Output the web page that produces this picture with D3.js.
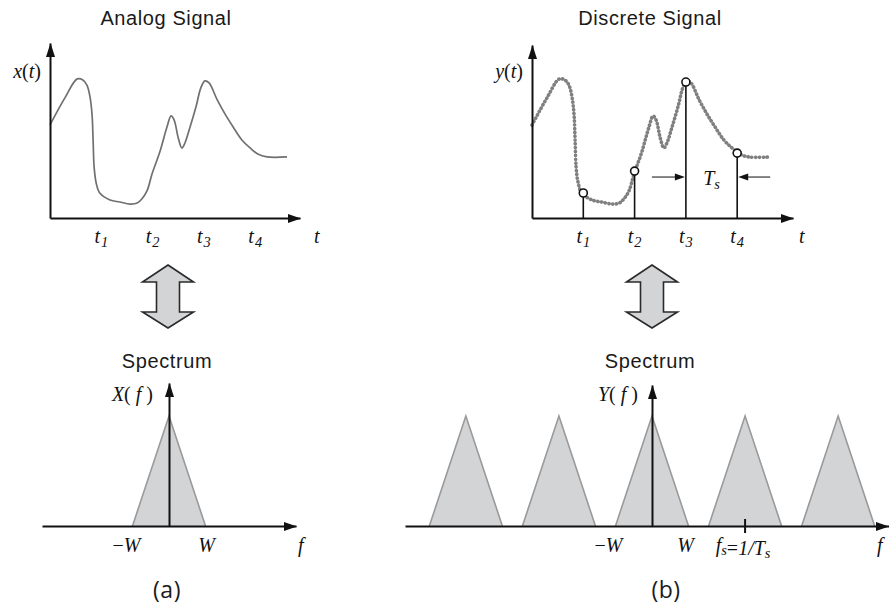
<!DOCTYPE html>
<html><head><meta charset="utf-8">
<script src="https://cdn.jsdelivr.net/npm/d3@7"></script>
<style>body{margin:0;background:#fff}svg{display:block}</style>
</head><body><svg id="c" width="889" height="604"></svg>
<script>
// ---------------- data ----------------
const signalT = [0,0.29,0.53,0.64,0.72,0.78,0.82,0.84,0.86,0.90,0.97,1.17,1.36,1.56,1.70,1.79,1.89,1.99,2.14,2.28,2.36,2.42,2.50,2.57,2.63,2.73,2.85,2.94,3.02,3.10,3.26,3.41,3.57,3.74,3.90,4.05,4.23,4.62];
const signalV = [0.547,0.706,0.818,0.812,0.782,0.712,0.606,0.459,0.300,0.206,0.147,0.106,0.094,0.082,0.088,0.112,0.159,0.260,0.388,0.535,0.600,0.576,0.471,0.412,0.441,0.535,0.659,0.765,0.806,0.794,0.694,0.612,0.535,0.459,0.412,0.376,0.359,0.359];
const sampleT = [1,2,3,4];
const sampleV = [0.147,0.276,0.800,0.382];
const sampleSubs = ["1","2","3","4"];
const panelTitles = ["Analog Signal","Discrete Signal"];
const spectrumTitle = "Spectrum";
const captions = ["(a)","(b)"];
const bandW = 1;          // half-width of baseband spectrum
const fsRatio = 2.55;     // sampling frequency in units of W
const replicaK = [-2,-1,0,1,2];
const specHeight = 1;

// ---------------- helpers ----------------
const svg = d3.select("#c");
const serif = "'Liberation Serif','Times New Roman',serif";
const sans = "'Liberation Sans',Arial,sans-serif";
const capFont = "'Open Sans','Noto Sans',sans-serif";

function head(g, x, y, dir, L, H) {
  let pts;
  if (dir === "right") pts = [[x,y],[x-L,y-H/2],[x-L,y+H/2]];
  else if (dir === "left") pts = [[x,y],[x+L,y-H/2],[x+L,y+H/2]];
  else pts = [[x,y],[x-H/2,y+L],[x+H/2,y+L]];
  g.append("path").attr("d","M"+pts.map(p=>p.join(",")).join("L")+"Z").attr("fill","#111");
}
function styleAxis(sel){
  sel.select(".domain").attr("stroke","#111").attr("stroke-width",2);
}
function axesPair(xs, ys) {
  const g = svg.append("g");
  g.append("g").attr("transform",`translate(0,${ys(0)})`)
    .call(d3.axisBottom(xs).tickValues([]).tickSizeOuter(0)).call(styleAxis);
  g.append("g").attr("transform",`translate(${xs(0)},0)`)
    .call(d3.axisLeft(ys).tickValues([]).tickSizeOuter(0)).call(styleAxis);
  head(g, xs.range()[1]+1, ys(0)+0.5, "right", 13, 9);
  head(g, xs(0)+0.5, ys.range()[1], "up", 14, 9);
}
function mathText(x, y, parts, anchor, size) {
  const t = svg.append("text").attr("x",x).attr("y",y)
    .attr("text-anchor",anchor||"start").attr("font-family",serif)
    .attr("font-size",size||20).attr("fill","#111");
  parts.forEach(p=>{
    const s = t.append("tspan").text(p.t);
    if (p.i) s.attr("font-style","italic");
    if (p.sub) s.attr("font-size",(size||20)*0.72).attr("dy",p.dy!=null?p.dy:4);
    if (p.up) s.attr("dy",-(p.up));
    if (p.dx) s.attr("dx",p.dx);
  });
  return t;
}
function title(x, y, txt, font, size, ls) {
  svg.append("text").attr("x",x).attr("y",y).attr("text-anchor","middle")
    .attr("font-family",font).attr("font-size",size).attr("letter-spacing",ls||0)
    .attr("fill","#1a1a1a").text(txt);
}
function dblArrow(cx) {
  const top=265, hb=282, sb=312, bot=328, hw=25.5, sw=11.5;
  const d = `M${cx},${top}L${cx+hw},${hb}L${cx+sw},${hb}L${cx+sw},${sb}L${cx+hw},${sb}L${cx},${bot}L${cx-hw},${sb}L${cx-sw},${sb}L${cx-sw},${hb}L${cx-hw},${hb}Z`;
  svg.append("path").attr("d",d).attr("fill","#d3d4d6").attr("stroke","#2a2a2a").attr("stroke-width",1.6).attr("stroke-linejoin","miter");
}
const sig = signalT.map((t,i)=>[t,signalV[i]]);

// ---------------- top-left: analog signal ----------------
const xL = d3.scaleLinear().domain([0,4.873]).range([50,300]);
const yL = d3.scaleLinear().domain([0,1.029]).range([218,43]);
svg.append("path").datum(sig)
  .attr("d", d3.line().x(d=>xL(d[0])).y(d=>yL(d[1])).curve(d3.curveCatmullRom.alpha(0.5)))
  .attr("fill","none").attr("stroke","#707070").attr("stroke-width",1.7);
axesPair(xL, yL);
sampleT.forEach((t,i)=>mathText(xL(t),243,[{t:"t",i:true},{t:sampleSubs[i],i:true,sub:true,dx:1}],"middle"));
mathText(xL.range()[1]+14,243,[{t:"t",i:true}],"start");
mathText(41,78,[{t:"x",i:true},{t:"("},{t:"t",i:true},{t:")"}],"end");
title(166,25,panelTitles[0],sans,20,0.6);

// ---------------- top-right: discrete signal ----------------
const xR = d3.scaleLinear().domain([0,5.088]).range([532,793]);
const yR = d3.scaleLinear().domain([0,1.018]).range([218,45]);
svg.append("path").datum(sig)
  .attr("d", d3.line().x(d=>xR(d[0])).y(d=>yR(d[1])).curve(d3.curveCatmullRom.alpha(0.5)))
  .attr("fill","none").attr("stroke","#808080").attr("stroke-width",3.6)
  .attr("stroke-linecap","round").attr("stroke-dasharray","0.3 3.5");
axesPair(xR, yR);
const r = 4;
sampleT.forEach((t,i)=>{
  svg.append("line").attr("x1",xR(t)).attr("x2",xR(t)).attr("y1",yR(0)).attr("y2",yR(sampleV[i])+r)
    .attr("stroke","#111").attr("stroke-width",1.6);
  svg.append("circle").attr("cx",xR(t)).attr("cy",yR(sampleV[i])).attr("r",r)
    .attr("fill","#fff").attr("stroke","#111").attr("stroke-width",1.6);
  mathText(xR(t),243,[{t:"t",i:true},{t:sampleSubs[i],i:true,sub:true,dx:1}],"middle");
});
mathText(xR.range()[1]+6,243,[{t:"t",i:true}],"start");
mathText(523,78,[{t:"y",i:true},{t:"("},{t:"t",i:true},{t:")"}],"end");
title(650,25,panelTitles[1],sans,20,0.6);
// Ts dimension arrows
{
  const ya = yR(0.241), g = svg.append("g");
  const a3 = xR(sampleT[2]), a4 = xR(sampleT[3]);
  g.append("line").attr("x1",a3-34).attr("x2",a3-8).attr("y1",ya).attr("y2",ya).attr("stroke","#444").attr("stroke-width",1.3);
  head(g,a3-1,ya,"right",10,7);
  g.append("line").attr("x1",a4+33).attr("x2",a4+8).attr("y1",ya).attr("y2",ya).attr("stroke","#444").attr("stroke-width",1.3);
  head(g,a4+1,ya,"left",10,7);
  mathText((a3+a4)/2,ya+8,[{t:"T",i:true},{t:"s",i:true,sub:true,dy:4}],"middle");
}

// ---------------- double arrows ----------------
dblArrow(168);
dblArrow(652);

// ---------------- bottom-left: spectrum ----------------
const fL = d3.scaleLinear().domain([-3.479,3.479]).range([42,296]);
const aL = d3.scaleLinear().domain([0,1.3]).range([526,383]);
const triLine = (fs, as) => d3.line().x(d=>fs(d[0])).y(d=>as(d[1]));
svg.append("path").datum([[-bandW,0],[0,specHeight],[bandW,0]])
  .attr("d",triLine(fL,aL)).attr("fill","#d3d4d6").attr("stroke","#9a9a9a").attr("stroke-width",1.6);
{
  const g = svg.append("g");
  g.append("g").attr("transform",`translate(0,${aL(0)})`).call(d3.axisBottom(fL).tickValues([]).tickSizeOuter(0)).call(styleAxis);
  g.append("g").attr("transform",`translate(${fL(0)},0)`).call(d3.axisLeft(aL).tickValues([]).tickSizeOuter(0)).call(styleAxis);
  head(g, fL.range()[1]+1, aL(0)+0.5, "right", 13, 9);
  head(g, fL(0)+0.5, aL.range()[1], "up", 14, 9);
}
title(167,368,spectrumTitle,sans,20,0.6);
mathText(153,401,[{t:"X",i:true},{t:"("},{t:" f ",i:true},{t:")"}],"end");
mathText(fL(-bandW)-6,552,[{t:"\u2212"},{t:"W",i:true}],"middle");
mathText(fL(bandW)+1,552,[{t:"W",i:true}],"middle");
mathText(fL.range()[1]+2,552,[{t:"f",i:true}],"start");
title(167,598,captions[0],capFont,23,0.5);

// ---------------- bottom-right: sampled spectrum ----------------
const fR = d3.scaleLinear().domain([-6.767,6.493]).range([405,889]);
const aR = d3.scaleLinear().domain([0,1.282]).range([526,385]);
replicaK.forEach(k=>{
  const c = k*fsRatio*bandW;
  svg.append("path").datum([[c-bandW,0],[c,specHeight],[c+bandW,0]])
    .attr("d",triLine(fR,aR)).attr("fill","#d3d4d6").attr("stroke","#9a9a9a").attr("stroke-width",1.6);
});
{
  const g = svg.append("g");
  g.append("g").attr("transform",`translate(0,${aR(0)})`).call(d3.axisBottom(fR).tickValues([]).tickSizeOuter(0)).call(styleAxis);
  g.append("g").attr("transform",`translate(${fR(0)},0)`).call(d3.axisLeft(aR).tickValues([]).tickSizeOuter(0)).call(styleAxis);
  head(g, fR.range()[1], aR(0)+0.5, "right", 13, 9);
  head(g, fR(0)+0.5, aR.range()[1], "up", 14, 9);
  const xf = fR(fsRatio*bandW);
  g.append("line").attr("x1",xf).attr("x2",xf).attr("y1",aR(0)-7).attr("y2",aR(0)+7).attr("stroke","#111").attr("stroke-width",2);
}
title(650,368,spectrumTitle,sans,20,0.6);
mathText(638,401,[{t:"Y",i:true},{t:"("},{t:" f ",i:true},{t:")"}],"end");
mathText(fR(-bandW)-7,552,[{t:"\u2212"},{t:"W",i:true}],"middle");
mathText(fR(bandW)-3,552,[{t:"W",i:true}],"middle");
mathText(fR(fsRatio*bandW)-2,552,[{t:"f",i:true},{t:"s",i:true,sub:true,dy:3},{t:"=",dy:-3},{t:"1/T",i:true},{t:"s",i:true,sub:true,dy:3}],"middle");
mathText(fR.range()[1]-12,552,[{t:"f",i:true}],"start");
title(666,598,captions[1],capFont,23,0.5);
</script></body></html>
